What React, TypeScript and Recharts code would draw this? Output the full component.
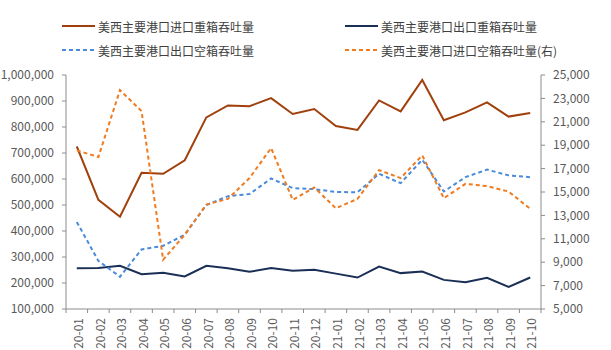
import React from "react";
import { LineChart, Line, XAxis, YAxis } from "recharts";

const months = [
  "20-01", "20-02", "20-03", "20-04", "20-05", "20-06", "20-07", "20-08", "20-09", "20-10", "20-11",
  "20-12", "21-01", "21-02", "21-03", "21-04", "21-05", "21-06", "21-07", "21-08", "21-09", "21-10",
];

// left axis
const importLaden = [725000, 520000, 455000, 624000, 620000, 672000, 837000, 883000, 880000, 911000, 850000, 869000, 804000, 789000, 902000, 860000, 981000, 826000, 856000, 895000, 840000, 854000];
const exportLaden = [257000, 258000, 266000, 234000, 239000, 225000, 266000, 257000, 243000, 258000, 247000, 251000, 236000, 221000, 263000, 238000, 244000, 212000, 203000, 220000, 185000, 221000];
const exportEmpty = [435000, 285000, 224000, 329000, 343000, 386000, 500000, 534000, 542000, 602000, 565000, 561000, 550000, 549000, 620000, 584000, 674000, 552000, 607000, 636000, 614000, 607000];
// right axis
const importEmpty = [18560, 17990, 23710, 21910, 9206, 11350, 13930, 14410, 16190, 18760, 14330, 15390, 13610, 14410, 16870, 16190, 18130, 14470, 15700, 15500, 15040, 13560];

const leftTicks = [100000, 200000, 300000, 400000, 500000, 600000, 700000, 800000, 900000, 1000000];
const rightTicks = [5000, 7000, 9000, 11000, 13000, 15000, 17000, 19000, 21000, 23000, 25000];

const C_BROWN = "#A0410D";
const C_NAVY = "#1A2F55";
const C_BLUE = "#4A8BDB";
const C_ORANGE = "#F07A1E";
const AXIS = "#8C8C8C";
const TEXT = "#595959";
const FONT = "'Noto Sans CJK SC', 'Noto Sans', sans-serif";

const data = months.map((m, i) => ({
  month: m,
  importLaden: importLaden[i],
  exportLaden: exportLaden[i],
  exportEmpty: exportEmpty[i],
  importEmpty: importEmpty[i],
}));

const BAND = (541 - 66) / months.length;

function MonthTick(props: any) {
  const { x, y, payload, index } = props;
  const last = index === months.length - 1;
  return (
    <g>
      <line x1={x - BAND / 2} x2={x - BAND / 2} y1={y} y2={y + 4} stroke={AXIS} />
      {last && <line x1={x + BAND / 2} x2={x + BAND / 2} y1={y} y2={y + 4} stroke={AXIS} />}
      <text
        x={x + 2}
        y={y + 9}
        dy="0.35em"
        transform={`rotate(-90, ${x + 2}, ${y + 9})`}
        textAnchor="end"
        fill={TEXT}
        fontSize={12}
        fontFamily={FONT}
      >
        {payload.value}
      </text>
    </g>
  );
}

const legend = [
  { label: "美西主要港口进口重箱吞吐量", color: C_BROWN, dashed: false, left: 62, top: 26 },
  { label: "美西主要港口出口重箱吞吐量", color: C_NAVY, dashed: false, left: 345, top: 26 },
  { label: "美西主要港口出口空箱吞吐量", color: C_BLUE, dashed: true, left: 62, top: 50 },
  { label: "美西主要港口进口空箱吞吐量(右)", color: C_ORANGE, dashed: true, left: 345, top: 50 },
];

export default function App() {
  return (
    <div style={{ position: "absolute", left: 0, top: 0, width: 611, height: 350, background: "#fff", fontFamily: FONT }}>
      {legend.map((l) => (
        <div
          key={l.label}
          style={{ position: "absolute", left: l.left, top: l.top - 9, height: 18, display: "flex", alignItems: "center", whiteSpace: "nowrap" }}
        >
          <svg width={33} height={4} style={{ marginRight: 3 }}>
            <line x1={0} x2={33} y1={2} y2={2} stroke={l.color} strokeWidth={2} strokeDasharray={l.dashed ? "4 3" : undefined} />
          </svg>
          <span style={{ fontSize: 12, color: "#404040" }}>{l.label}</span>
        </div>
      ))}
      <LineChart width={611} height={350} data={data} margin={{ top: 75, right: 0, bottom: 0, left: 0 }} style={{ fontFamily: FONT }}>
        <XAxis
          dataKey="month"
          height={41}
          interval={0}
          tickLine={false}
          tickSize={0}
          tickMargin={0}
          padding={{ left: BAND / 2, right: BAND / 2 }}
          axisLine={{ stroke: AXIS }}
          tick={<MonthTick />}
        />
        <YAxis
          yAxisId="left"
          width={66}
          domain={[100000, 1000000]}
          ticks={leftTicks}
          interval={0}
          tickFormatter={(v: number) => v.toLocaleString("en-US")}
          tick={{ fill: TEXT, fontSize: 12 }}
          tickSize={4}
          tickMargin={8}
          axisLine={{ stroke: AXIS }}
          tickLine={{ stroke: AXIS }}
        />
        <YAxis
          yAxisId="right"
          orientation="right"
          width={70}
          domain={[5000, 25000]}
          ticks={rightTicks}
          interval={0}
          tickFormatter={(v: number) => v.toLocaleString("en-US")}
          tick={{ fill: TEXT, fontSize: 12 }}
          tickSize={4}
          tickMargin={8}
          axisLine={{ stroke: AXIS }}
          tickLine={{ stroke: AXIS }}
        />
        <Line yAxisId="left" dataKey="importLaden" stroke={C_BROWN} strokeWidth={2} dot={false} isAnimationActive={false} />
        <Line yAxisId="left" dataKey="exportLaden" stroke={C_NAVY} strokeWidth={2} dot={false} isAnimationActive={false} />
        <Line yAxisId="left" dataKey="exportEmpty" stroke={C_BLUE} strokeWidth={2} strokeDasharray="4 3" dot={false} isAnimationActive={false} />
        <Line yAxisId="right" dataKey="importEmpty" stroke={C_ORANGE} strokeWidth={2} strokeDasharray="4 3" dot={false} isAnimationActive={false} />
      </LineChart>
    </div>
  );
}
